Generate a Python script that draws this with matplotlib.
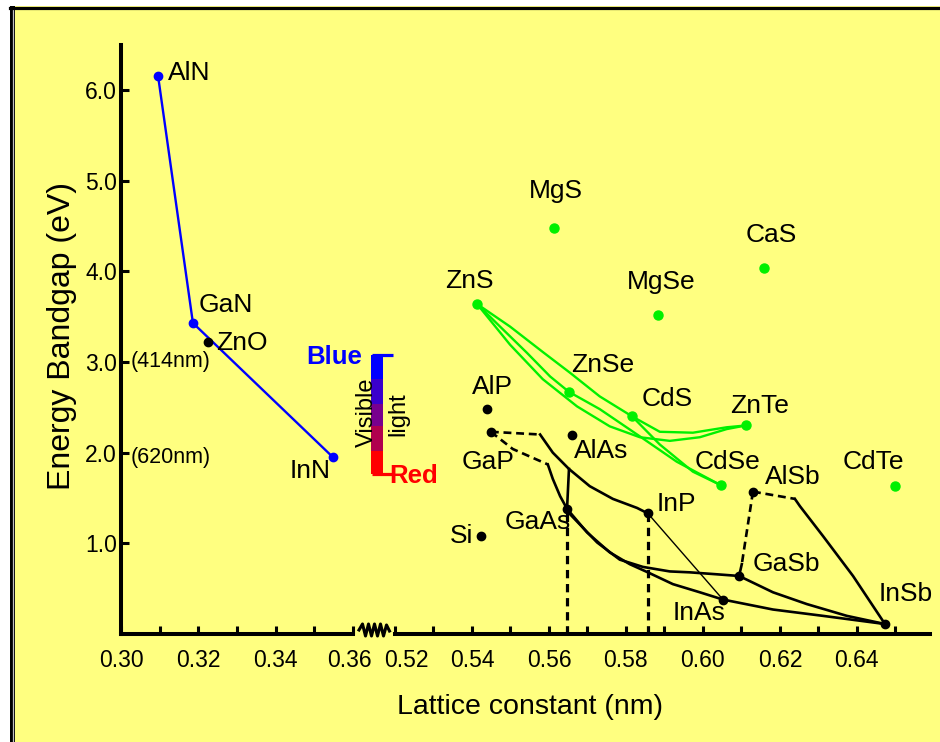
import matplotlib
matplotlib.use('Agg')
import matplotlib.pyplot as plt
from matplotlib.lines import Line2D
from matplotlib.patches import Rectangle
from matplotlib.transforms import ScaledTranslation

plt.rcParams['font.family'] = ['Liberation Sans', 'DejaVu Sans']

# ---------------- data ----------------
# left panel: nitrides (blue) and ZnO
nitride_names = ['AlN', 'GaN', 'InN']
nitride_a = [0.3096, 0.3186, 0.3548]
nitride_eg = [6.15, 3.43, 1.95]
zno_a = [0.3225]
zno_eg = [3.22]

# right panel: III-V and Si (black)
iiiv_names = ['Si', 'AlP', 'GaP', 'AlAs', 'GaAs', 'InP', 'InAs', 'GaSb', 'AlSb', 'InSb']
iiiv_a = [0.5423, 0.5439, 0.5449, 0.5660, 0.5647, 0.5857, 0.6052, 0.6094, 0.6130, 0.6473]
iiiv_eg = [1.08, 2.48, 2.23, 2.19, 1.38, 1.33, 0.38, 0.64, 1.57, 0.11]

# right panel: II-VI (green)
iivi_names = ['MgS', 'MgSe', 'CaS', 'ZnS', 'ZnSe', 'CdS', 'ZnTe', 'CdSe', 'CdTe']
iivi_a = [0.5613, 0.5883, 0.6158, 0.5413, 0.5652, 0.5816, 0.6112, 0.6047, 0.6499]
iivi_eg = [4.48, 3.52, 4.04, 3.64, 2.67, 2.40, 2.30, 1.64, 1.63]

# alloy curves (III-V)
gap_inp_dash_a = [0.5449, 0.5577]
gap_inp_dash_eg = [2.23, 2.20]
gap_inp_a = [0.5577, 0.5610, 0.5652, 0.5706, 0.5766, 0.5829, 0.5857]
gap_inp_eg = [2.20, 2.00, 1.82, 1.63, 1.49, 1.39, 1.33]
gap_gaas_dash_a = [0.5449, 0.5506, 0.5597]
gap_gaas_dash_eg = [2.23, 2.04, 1.87]
gap_gaas_a = [0.5597, 0.5610, 0.5629, 0.5647]
gap_gaas_eg = [1.87, 1.71, 1.52, 1.38]
algaas_a = [0.5652, 0.5647]
algaas_eg = [1.82, 1.38]
gaas_inas_a = [0.5647, 0.5699, 0.5758, 0.5810, 0.5862, 0.5922, 0.5992, 0.6052]
gaas_inas_eg = [1.38, 1.12, 0.90, 0.77, 0.67, 0.55, 0.46, 0.38]
gaas_gasb_a = [0.5647, 0.5655, 0.5725, 0.5784, 0.5844, 0.5914, 0.5966, 0.6031, 0.6094]
gaas_gasb_eg = [1.38, 1.32, 1.01, 0.82, 0.74, 0.69, 0.68, 0.66, 0.64]
inp_inas_a = [0.5857, 0.6052]
inp_inas_eg = [1.33, 0.38]
inas_insb_a = [0.6052, 0.6182, 0.6312, 0.6473]
inas_insb_eg = [0.38, 0.27, 0.20, 0.11]
gasb_insb_a = [0.6094, 0.6182, 0.6270, 0.6374, 0.6473]
gasb_insb_eg = [0.64, 0.46, 0.33, 0.20, 0.11]
alsb_gasb_dash_a = [0.6130, 0.6101]
alsb_gasb_dash_eg = [1.57, 0.77]
alsb_gasb_a = [0.6101, 0.6094]
alsb_gasb_eg = [0.77, 0.64]
alsb_insb_dash_a = [0.6130, 0.6239]
alsb_insb_dash_eg = [1.57, 1.49]
alsb_insb_a = [0.6239, 0.6252, 0.6312, 0.6390, 0.6473]
alsb_insb_eg = [1.49, 1.41, 1.08, 0.64, 0.11]
lattice_match_a = [0.5647, 0.5857]   # GaAs, InP dashed drop lines
lattice_match_eg = [1.38, 1.33]

# alloy curves (II-VI)
zns_cds_a = [0.5413, 0.5499, 0.5584, 0.5655, 0.5732, 0.5816]
zns_cds_eg = [3.64, 3.39, 3.11, 2.88, 2.62, 2.40]
zns_znse_a = [0.5413, 0.5473, 0.5543, 0.5603, 0.5652]
zns_znse_eg = [3.64, 3.39, 3.10, 2.84, 2.67]
zns_znte_a = [0.5413, 0.5499, 0.5584, 0.5673, 0.5758, 0.5836, 0.5914, 0.5992, 0.6062, 0.6112]
zns_znte_eg = [3.64, 3.19, 2.81, 2.51, 2.29, 2.17, 2.13, 2.17, 2.26, 2.30]
cds_znte_a = [0.5816, 0.5888, 0.5974, 0.6062, 0.6112]
cds_znte_eg = [2.40, 2.23, 2.22, 2.28, 2.30]
cds_cdse_a = [0.5816, 0.5888, 0.5974, 0.6047]
cds_cdse_eg = [2.40, 2.09, 1.79, 1.64]
znse_cdse_a = [0.5652, 0.5732, 0.5836, 0.5932, 0.6047]
znse_cdse_eg = [2.67, 2.48, 2.18, 1.90, 1.64]

# visible light bar (eV edges, top to bottom) and colours
visible_edges = [3.08, 2.81, 2.54, 2.29, 2.02, 1.77]
visible_colors = ['#0000FF', '#3A00CC', '#78008E', '#B0004E', '#FF0000']

# ticks
yticks = [1.0, 2.0, 3.0, 4.0, 5.0, 6.0]
ytick_labels = ['1.0', '2.0', '3.0', '4.0', '5.0', '6.0']
xticks_left = [0.30, 0.32, 0.34, 0.36]
xticks_left_labels = ['0.30', '0.32', '0.34', '0.36']
xminor_left = [0.31, 0.33, 0.35]
xticks_right = [0.52, 0.54, 0.56, 0.58, 0.60, 0.62, 0.64]
xticks_right_labels = ['0.52', '0.54', '0.56', '0.58', '0.60', '0.62', '0.64']
xminor_right = [0.53, 0.55, 0.57, 0.59, 0.61, 0.63, 0.65]

# ---------------- layout ----------------
W, H = 940, 742
BG = '#FFFF80'
GREEN = '#00F000'
fig = plt.figure(figsize=(W / 100, H / 100), dpi=100)
fig.patch.set_facecolor('white')

def fx(px):
    return px / W

def fy(py):
    return 1 - py / H

# yellow panel and frame
fig.patches.append(Rectangle((fx(10), 0), 1 - fx(10), fy(6), transform=fig.transFigure,
                             facecolor=BG, edgecolor='none', zorder=-10))
fig.patches.append(Rectangle((fx(10), 0), fx(5.3), fy(6), transform=fig.transFigure,
                             facecolor='black', edgecolor='none', zorder=-9))
fig.lines.append(Line2D([fx(13.3), fx(13.3)], [0, fy(9)], transform=fig.transFigure,
                        color='#c0c0c0', lw=0.9))
fig.lines.append(Line2D([fx(10), 1], [fy(7.5), fy(7.5)], transform=fig.transFigure,
                        color='black', lw=2.3))

y_bot, y_top = 634.0, 44.6
ax1 = fig.add_axes([fx(121), fy(y_bot), fx(353) - fx(121), fy(y_top) - fy(y_bot)])
ax2 = fig.add_axes([fx(395), fy(y_bot), fx(930) - fx(395), fy(y_top) - fy(y_bot)])
for ax in (ax1, ax2):
    ax.set_facecolor('none')
    ax.set_ylim(0, 6.5)
    for s in ('top', 'right'):
        ax.spines[s].set_visible(False)
    ax.spines['bottom'].set_linewidth(2.9)
    ax.tick_params(axis='x', which='both', direction='in', length=5.5, width=2.2,
                   labelsize=16.5, pad=10.5)
ax1.spines['left'].set_linewidth(2.9)
ax2.spines['left'].set_visible(False)
ax2.set_yticks([])

ax1.set_xlim(0.30, 0.36)
ax2.set_xlim(0.52, 0.659)
ax1.set_xticks(xticks_left)
ax1.set_xticklabels(xticks_left_labels)
ax1.set_xticks(xminor_left, minor=True)
ax2.set_xticks(xticks_right)
ax2.set_xticklabels(xticks_right_labels)
ax2.set_xticks(xminor_right, minor=True)
ax1.set_yticks(yticks)
ax1.set_yticklabels(ytick_labels)
ax1.tick_params(axis='y', direction='in', length=5.5, width=2.2, labelsize=16.5, pad=3)

# nudge the two labels that meet at the axis break apart
t36 = ax1.xaxis.get_major_ticks()[-1].label1
t36.set_transform(t36.get_transform() + ScaledTranslation(-4 / 100, 0, fig.dpi_scale_trans))
t52 = ax2.xaxis.get_major_ticks()[0].label1
t52.set_transform(t52.get_transform() + ScaledTranslation(11 / 100, 0, fig.dpi_scale_trans))

# axis break zigzag
zz_x = [359, 362.5, 365.5, 368.5, 371.5, 374.5, 377.5, 380.5, 383.5, 386.5, 389.5]
zz_y = [630, 624, 636, 624, 636, 624, 636, 624, 636, 625, 631]
fig.lines.append(Line2D([fx(v) for v in zz_x], [fy(v) for v in zz_y],
                        transform=fig.transFigure, color='black', lw=2.2))

# ---------------- left panel ----------------
ax1.plot(nitride_a, nitride_eg, color='#0000FF', lw=1.7, marker='o', ms=6, zorder=3)
ax1.plot(zno_a, zno_eg, 'o', color='black', ms=6, zorder=3)

# visible light bar
bar_x = 0.3662
for i, c in enumerate(visible_colors):
    ax1.bar(bar_x, visible_edges[i] - visible_edges[i + 1], bottom=visible_edges[i + 1],
            width=0.0031, color=c, edgecolor='none', clip_on=False, zorder=2)
ax1.plot([0.3648, 0.3703], [visible_edges[0]] * 2, color='#0000FF', lw=2.3, clip_on=False,
         solid_capstyle='butt')
ax1.plot([0.3648, 0.3703], [visible_edges[-1]] * 2, color='#FF0000', lw=2.3, clip_on=False,
         solid_capstyle='butt')

lab = dict(fontsize=19, va='center', ha='left', color='black')
ax1.text(0.3122, 6.19, 'AlN', **lab)
ax1.text(0.3202, 3.63, 'GaN', **lab)
ax1.text(0.3246, 3.21, 'ZnO', **lab)
ax1.text(0.3437, 1.80, 'InN', **lab)
ax1.text(0.3026, 3.00, '(414nm)', fontsize=15.5, va='center', ha='left')
ax1.text(0.3026, 1.95, '(620nm)', fontsize=15.5, va='center', ha='left')
ax1.text(0.3478, 3.05, 'Blue', fontsize=18.5, fontweight='bold', color='#0000FF',
         va='center', ha='left')
ax1.text(0.3693, 1.74, 'Red', fontsize=18.5, fontweight='bold', color='#FF0000',
         va='center', ha='left')
ax1.text(0.3636, 2.45, 'Visible', fontsize=17, rotation=90, va='center', ha='center')
ax1.text(0.3718, 2.43, 'light', fontsize=17, rotation=90, va='center', ha='center')

# ---------------- right panel ----------------
k = dict(color='black', lw=1.9, zorder=2)
kd = dict(color='black', lw=1.9, zorder=2, ls=(0, (3, 1.8)))
ax2.plot(gap_inp_dash_a, gap_inp_dash_eg, **kd)
ax2.plot(gap_inp_a, gap_inp_eg, **k)
ax2.plot(gap_gaas_dash_a, gap_gaas_dash_eg, **kd)
ax2.plot(gap_gaas_a, gap_gaas_eg, **k)
ax2.plot(algaas_a, algaas_eg, **k)
ax2.plot(gaas_inas_a, gaas_inas_eg, **k)
ax2.plot(gaas_gasb_a, gaas_gasb_eg, **k)
ax2.plot(inp_inas_a, inp_inas_eg, color='black', lw=1.0, zorder=2)
ax2.plot(inas_insb_a, inas_insb_eg, **k)
ax2.plot(gasb_insb_a, gasb_insb_eg, **k)
ax2.plot(alsb_gasb_dash_a, alsb_gasb_dash_eg, **kd)
ax2.plot(alsb_gasb_a, alsb_gasb_eg, **k)
ax2.plot(alsb_insb_dash_a, alsb_insb_dash_eg, **kd)
ax2.plot(alsb_insb_a, alsb_insb_eg, **k)
for a, e in zip(lattice_match_a, lattice_match_eg):
    ax2.plot([a, a], [0, e], color='black', lw=2.3, ls=(0, (2.6, 1.8)), zorder=2)

g = dict(color=GREEN, lw=1.7, zorder=2)
ax2.plot(zns_cds_a, zns_cds_eg, **g)
ax2.plot(zns_znse_a, zns_znse_eg, **g)
ax2.plot(zns_znte_a, zns_znte_eg, **g)
ax2.plot(cds_znte_a, cds_znte_eg, **g)
ax2.plot(cds_cdse_a, cds_cdse_eg, **g)
ax2.plot(znse_cdse_a, znse_cdse_eg, **g)

ax2.plot(iiiv_a, iiiv_eg, 'o', color='black', ms=6, zorder=3)
ax2.plot(iivi_a, iivi_eg, 'o', color=GREEN, ms=6.5, zorder=3)

right_label_pos = {
    'MgS': (0.5548, 4.89), 'CaS': (0.6112, 4.40), 'MgSe': (0.5803, 3.88),
    'ZnS': (0.5330, 3.89), 'ZnSe': (0.5657, 2.97), 'CdS': (0.5842, 2.59),
    'AlP': (0.5400, 2.72), 'GaP': (0.5374, 1.90), 'AlAs': (0.5665, 2.02),
    'ZnTe': (0.6070, 2.51), 'CdSe': (0.5979, 1.90), 'CdTe': (0.6364, 1.90),
    'AlSb': (0.6161, 1.73), 'InP': (0.5881, 1.43), 'GaAs': (0.5486, 1.23),
    'Si': (0.5343, 1.08), 'GaSb': (0.6130, 0.77), 'InAs': (0.5922, 0.23),
    'InSb': (0.6457, 0.44),
}
for name in iiiv_names + iivi_names:
    x, y = right_label_pos[name]
    ax2.text(x, y, name, clip_on=False, **lab)

# axis titles
fig.text(fx(62), fy(336), 'Energy Bandgap (eV)', rotation=90, fontsize=23,
         va='center', ha='center')
fig.text(fx(530), fy(707), 'Lattice constant (nm)', fontsize=20.5, va='center', ha='center')

fig.savefig('out.png', dpi=100, facecolor=fig.get_facecolor())
